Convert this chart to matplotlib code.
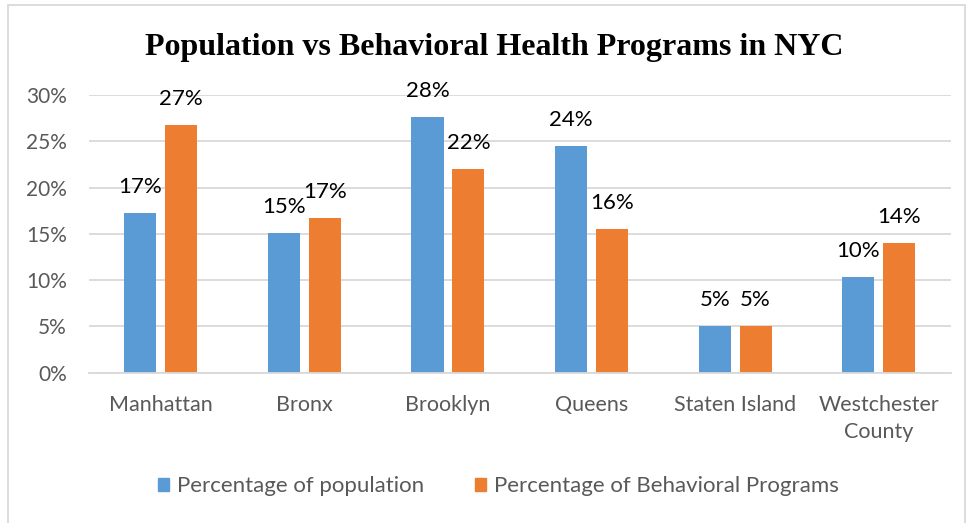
import numpy as np
import matplotlib
matplotlib.use("Agg")
import matplotlib.pyplot as plt
from matplotlib.patches import Patch, Rectangle
from matplotlib.ticker import PercentFormatter

# data
boroughs = ["Manhattan", "Bronx", "Brooklyn", "Queens", "Staten Island", "Westchester\nCounty"]
pct_population = [17.3, 15.1, 27.6, 24.5, 5.0, 10.3]
pct_programs = [26.8, 16.7, 22.0, 15.5, 5.0, 14.0]
series_names = ["Percentage of population", "Percentage of Behavioral Programs"]

blue = "#5B9BD5"
orange = "#ED7D31"
grid_gray = "#D9D9D9"
text_gray = "#595959"

plt.rcParams["font.family"] = ["Lato", "DejaVu Sans"]

fig = plt.figure(figsize=(9.69, 5.23), dpi=100)
ax = fig.add_axes([0.0918, 0.2874, 0.8892, 0.531])

x = np.arange(len(boroughs))
w = 0.223
off = w / 2 + 0.031

b1 = ax.bar(x - off, pct_population, w, color=blue, zorder=3)
b2 = ax.bar(x + off, pct_programs, w, color=orange, zorder=3)

for bars, vals in ((b1, pct_population), (b2, pct_programs)):
    for rect, v in zip(bars, vals):
        ax.annotate(f"{v:.0f}%", (rect.get_x() + rect.get_width() / 2, v),
                    xytext=(0, 20), textcoords="offset pixels",
                    ha="center", va="baseline", fontsize=16, color="black")

ax.set_xlim(-0.5, len(boroughs) - 0.5)
ax.set_ylim(0, 30)
ax.set_yticks(np.arange(0, 31, 5))
ax.yaxis.set_major_formatter(PercentFormatter(decimals=0))
ax.grid(axis="y", color=grid_gray, linewidth=1.3, zorder=0)
ax.set_xticks(x)
ax.set_xticklabels(boroughs, linespacing=1.45)

for s in ["top", "right", "left"]:
    ax.spines[s].set_visible(False)
ax.spines["bottom"].set_color(grid_gray)
ax.spines["bottom"].set_linewidth(1.3)
ax.spines["bottom"].set_zorder(4)

ax.tick_params(axis="y", length=0, pad=16, labelsize=15, labelcolor=text_gray)
ax.tick_params(axis="x", length=0, pad=16, labelsize=15.5, labelcolor=text_gray)
for lbl in ax.get_xticklabels():
    lbl.set_verticalalignment("top")

fig.text(0.51, 0.91, "Population vs Behavioral Health Programs in NYC",
         ha="center", va="center", fontsize=23, fontweight="bold",
         family="Liberation Serif")

handles = [Patch(color=blue), Patch(color=orange)]
fig.legend(handles, series_names, loc="center", bbox_to_anchor=(0.514, 0.07),
           ncol=2, frameon=False, fontsize=16, labelcolor=text_gray,
           handlelength=0.5, handleheight=0.5, handletextpad=0.35,
           columnspacing=2.3)

# light outer border like the chart frame
fig.patches.append(Rectangle((8 / 969, -0.01), 957 / 969, 1 - 5 / 523 + 0.01,
                             transform=fig.transFigure, fill=False,
                             edgecolor=grid_gray, linewidth=1.3))

fig.savefig("out.png", dpi=100)
